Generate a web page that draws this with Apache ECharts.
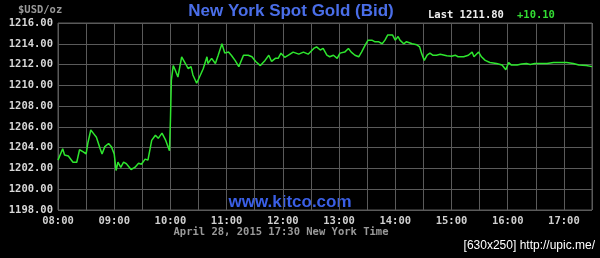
<!DOCTYPE html>
<html>
<head>
<meta charset="utf-8">
<script src="https://cdn.jsdelivr.net/npm/echarts@6/dist/echarts.min.js"></script>
<style>
html,body{margin:0;padding:0;background:#000;}
#chart{width:600px;height:258px;}
</style>
</head>
<body>
<div id="chart"></div>
<script>
// minutes after 08:00 New York time
const minutesFrom8 = [0,5,7,11,16,20,23,27,30,32,35,38,41,45,47,50,54,57,60,62,64,67,70,73,78,82,86,89,93,96,100,104,107,111,115,119,120,121,123,125,128,132,136,139,142,144,148,152,155,159,160,164,168,171,175,178,182,185,189,193,198,203,207,211,216,221,225,228,232,235,238,242,246,251,257,262,267,273,276,280,283,287,290,294,298,301,306,310,313,317,321,324,328,331,335,338,342,346,349,352,354,357,360,363,365,369,372,378,383,386,388,391,394,397,400,404,408,415,420,424,427,433,438,442,444,449,452,456,461,468,474,478,481,484,490,495,500,504,509,511,515,522,529,536,543,550,556,564,570];
const bidPrices = [1202.8,1203.9,1203.3,1203.2,1202.6,1202.6,1203.8,1203.6,1203.4,1204.5,1205.7,1205.35,1205.0,1203.9,1203.4,1204.1,1204.4,1204.1,1203.4,1201.8,1202.6,1202.1,1202.6,1202.45,1201.9,1202.1,1202.5,1202.4,1202.9,1202.8,1204.7,1205.2,1204.9,1205.4,1204.7,1203.7,1206.6,1210.5,1211.9,1211.5,1210.8,1212.75,1212.1,1211.6,1211.8,1211.0,1210.2,1211.0,1211.6,1212.75,1212.1,1212.6,1212.1,1212.9,1214.0,1213.1,1213.2,1212.9,1212.4,1211.8,1212.9,1212.9,1212.75,1212.3,1211.9,1212.4,1212.9,1212.3,1212.6,1212.6,1213.1,1212.7,1212.9,1213.2,1213.0,1213.2,1213.0,1213.55,1213.7,1213.4,1213.55,1212.9,1212.75,1212.9,1212.6,1213.1,1213.2,1213.55,1213.2,1212.9,1212.75,1213.2,1213.9,1214.35,1214.35,1214.2,1214.2,1214.0,1214.35,1214.85,1214.7,1214.85,1214.35,1214.7,1214.35,1214.0,1214.2,1214.0,1213.9,1213.7,1213.1,1212.4,1212.9,1213.1,1212.9,1212.9,1213.0,1212.85,1212.8,1212.9,1212.75,1212.75,1212.9,1213.2,1212.75,1213.2,1212.75,1212.4,1212.2,1212.1,1211.95,1211.5,1212.2,1211.95,1211.95,1212.05,1212.1,1212.0,1212.1,1211.95,1212.1,1212.1,1212.2,1212.2,1212.2,1212.1,1211.95,1211.9,1211.8];
const hourLabels = ['08:00','09:00','10:00','11:00','12:00','13:00','14:00','15:00','16:00','17:00'];
const chartTitle = 'New York Spot Gold (Bid)';
const lastText = 'Last 1211.80';
const changeText = '+10.10';
const unitText = '$USD/oz';
const subText = 'April 28, 2015 17:30 New York Time';
const siteText = 'www.kitco.com';
const stampText = '[630x250] http://upic.me/';

const mono = '"DejaVu Sans Mono", monospace';
const chart = echarts.init(document.getElementById('chart'), null, {renderer: 'canvas'});
chart.setOption({
  backgroundColor: '#000',
  animation: false,
  grid: {left: 58, right: 8, top: 23, bottom: 48, show: true, borderColor: '#5a5a5a', borderWidth: 1, containLabel: false},
  xAxis: {
    type: 'value', min: 0, max: 570, interval: 30,
    axisLine: {show: false}, axisTick: {show: false},
    splitLine: {show: true, lineStyle: {color: '#5a5a5a', width: 1}},
    axisLabel: {
      color: '#d0d0d0', fontFamily: mono, fontWeight: 'bold', fontSize: 10.5, margin: 6,
      formatter: v => (v % 60 === 0 && hourLabels[v / 60]) ? hourLabels[v / 60] : ''
    }
  },
  yAxis: {
    type: 'value', min: 1198, max: 1216, interval: 2,
    axisLine: {show: false}, axisTick: {show: false},
    splitLine: {show: true, lineStyle: {color: '#5a5a5a', width: 1}},
    axisLabel: {color: '#d8d8d8', fontFamily: mono, fontWeight: 'bold', fontSize: 10.5, margin: 5,
      formatter: v => v.toFixed(2)}
  },
  series: [{
    type: 'line', showSymbol: false, symbol: 'none',
    data: minutesFrom8.map((m, i) => [m, bidPrices[i]]),
    lineStyle: {color: '#2ee62e', width: 1.5}
  }],
  graphic: [
    {type: 'text', left: 18, top: 5, style: {text: unitText, fill: '#9a9a9a', font: 'bold 10.5px ' + mono}},
    {type: 'text', x: 291, y: 11, style: {text: chartTitle, fill: '#4a6ee8', font: 'bold 17px "Liberation Sans", Arial, sans-serif', textAlign: 'center', textVerticalAlign: 'middle'}},
    {type: 'text', x: 428, y: 15, style: {text: lastText, fill: '#f0f0f0', font: 'bold 10.5px ' + mono, textVerticalAlign: 'middle'}},
    {type: 'text', x: 517, y: 15, style: {text: changeText, fill: '#33dd33', font: 'bold 10.5px ' + mono, textVerticalAlign: 'middle'}},
    {type: 'text', x: 290, y: 202, style: {text: siteText, fill: '#3a5fe6', font: 'bold 17px "Liberation Sans", Arial, sans-serif', textAlign: 'center', textVerticalAlign: 'middle'}},
    {type: 'text', x: 281, y: 232, style: {text: subText, fill: '#9a9a9a', font: 'bold 10.5px ' + mono, textAlign: 'center', textVerticalAlign: 'middle'}},
    {type: 'text', x: 595, y: 246, style: {text: stampText, fill: '#ffffff', font: '12px "Liberation Sans", sans-serif', textAlign: 'right', textVerticalAlign: 'middle'}}
  ]
});
</script>
</body>
</html>
